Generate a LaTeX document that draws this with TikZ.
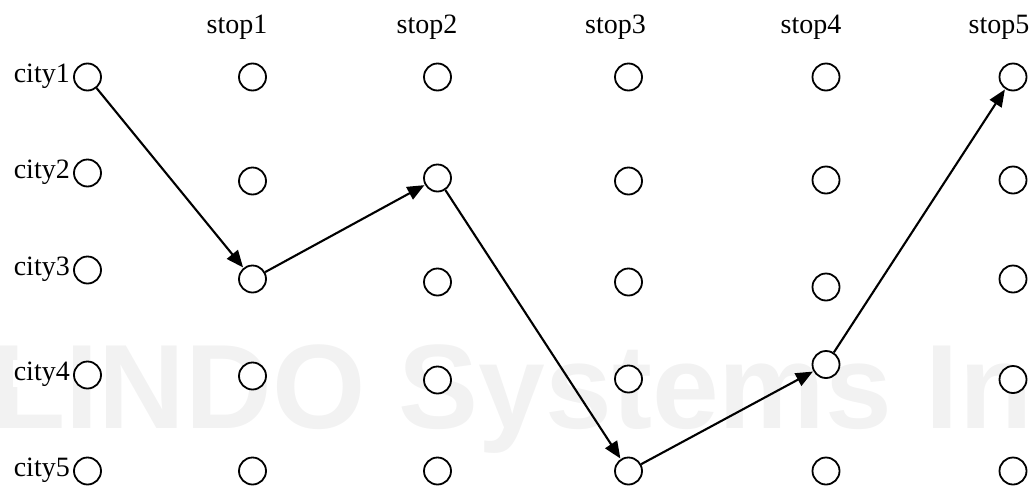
\documentclass[tikz,border=0pt]{standalone}
\usepackage{fontspec}
\setmainfont{Liberation Serif}
\newfontfamily\wmfont{Liberation Sans}
\usetikzlibrary{arrows.meta}
\begin{document}
\begin{tikzpicture}[x=1pt,y=-1pt,
  dot/.style={draw,fill=white,circle,line width=1.8pt,minimum size=27pt,inner sep=0pt},
  lbl/.style={inner sep=0pt,font=\fontsize{28}{30}\selectfont},
  hop/.style={line width=2.1pt,-{Triangle[length=17pt,width=14pt]},shorten >=0.5pt},
  wm/.style={inner sep=0pt,text=black!5,font=\wmfont\bfseries\fontsize{120}{120}\selectfont}]
\useasboundingbox (0,0) rectangle (1030,485);
% faint background lettering
\node[wm,anchor=base west] (mark) at (-8,428) {LINDO Systems In};
% grid of city/stop circles: column index, x, then y of rows 1..5
\foreach \c/\x/\ya/\yb/\yc/\yd/\ye in {
  0/87.5/77/173/270/375/471,
  1/252.5/77/181/279/376/471,
  2/437.5/77/178/282/380/471,
  3/628.5/77/181/282/379/471,
  4/826/77/180/287/364.5/471,
  5/1013/77/180/279/379.5/471}{
  \node[dot] (n\c-1) at (\x,\ya) {};
  \node[dot] (n\c-2) at (\x,\yb) {};
  \node[dot] (n\c-3) at (\x,\yc) {};
  \node[dot] (n\c-4) at (\x,\yd) {};
  \node[dot] (n\c-5) at (\x,\ye) {};
}
% row labels
\foreach \r/\y in {1/77,2/173,3/270,4/375,5/471}
  \node[lbl,fill=white,inner sep=1pt,anchor=base east] (city\r) at (71,\y+5) {city\r};
% column labels
\foreach \c/\x in {1/237,2/427,3/615.5,4/811,5/999}
  \node[lbl,anchor=base] (stop\c) at (\x,33) {stop\c};
% the route
\draw[hop] (n0-1) -- (n1-3);
\draw[hop] (n1-3) -- (n2-2);
\draw[hop] (n2-2) -- (n3-5);
\draw[hop] (n3-5) -- (n4-4);
\draw[hop] (n4-4) -- (n5-1);
\end{tikzpicture}
\end{document}
